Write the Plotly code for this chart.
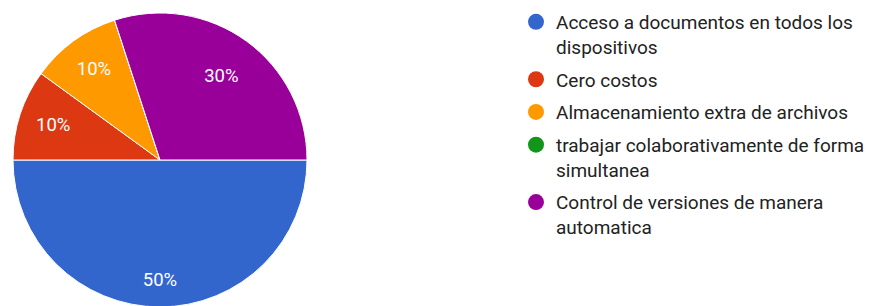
import plotly.graph_objects as go

labels = [
    "Acceso a documentos en todos los<br>dispositivos",
    "Cero costos",
    "Almacenamiento extra de archivos",
    "trabajar colaborativamente de forma<br>simultanea",
    "Control de versiones de manera<br>automatica",
]
values = [50, 10, 10, 0, 30]
colors = ["#3366cc", "#dc3912", "#ff9900", "#109618", "#990099"]

W, H = 874, 306
FONT = "Roboto, Arial, sans-serif"
DOM = dict(x=[5 / W, 299 / W], y=[0, 1])
CLEAR = ["rgba(0,0,0,0)"] * len(values)

fig = go.Figure()
fig.add_trace(go.Pie(
    labels=labels, values=values, sort=False, direction="clockwise", rotation=90,
    marker=dict(colors=colors, line=dict(color="white", width=1)),
    textinfo="none", hoverinfo="label+percent",
    showlegend=False, domain=DOM,
))
# transparent ring overlays that carry the percentage labels
# (outer ring for the big lower slice, inner ring for the upper slices)
for hole, show in [(0.63, [True, False, False, False, False]),
                   (0.42, [False, True, True, True, True])]:
    fig.add_trace(go.Pie(
        labels=labels, values=values, sort=False, direction="clockwise", rotation=90,
        hole=hole,
        marker=dict(colors=CLEAR, line=dict(width=0)),
        texttemplate=["%{percent}" if s else "" for s in show],
        textposition="inside", insidetextorientation="horizontal",
        textfont=dict(family=FONT, size=18.5, color="white"),
        hoverinfo="skip", showlegend=False, domain=DOM,
    ))
for lab, col in zip(labels, colors):
    fig.add_trace(go.Scatter(
        x=[None], y=[None], mode="markers", name=lab,
        marker=dict(color=col, size=16, symbol="circle"),
        legendgroup=lab, showlegend=True,
    ))

fig.update_layout(
    width=W, height=H,
    margin=dict(l=0, r=0, t=5, b=7, autoexpand=False),
    paper_bgcolor="white", plot_bgcolor="white",
    xaxis=dict(visible=False), yaxis=dict(visible=False),
    legend=dict(
        x=508 / W, y=1.034,
        xanchor="left", yanchor="top", valign="top",
        maxheight=300,
        font=dict(family=FONT, size=19, color="#222222"),
        tracegroupgap=5, itemsizing="trace", traceorder="grouped",
        bgcolor="rgba(0,0,0,0)",
    ),
)
fig.write_html("out.html")
